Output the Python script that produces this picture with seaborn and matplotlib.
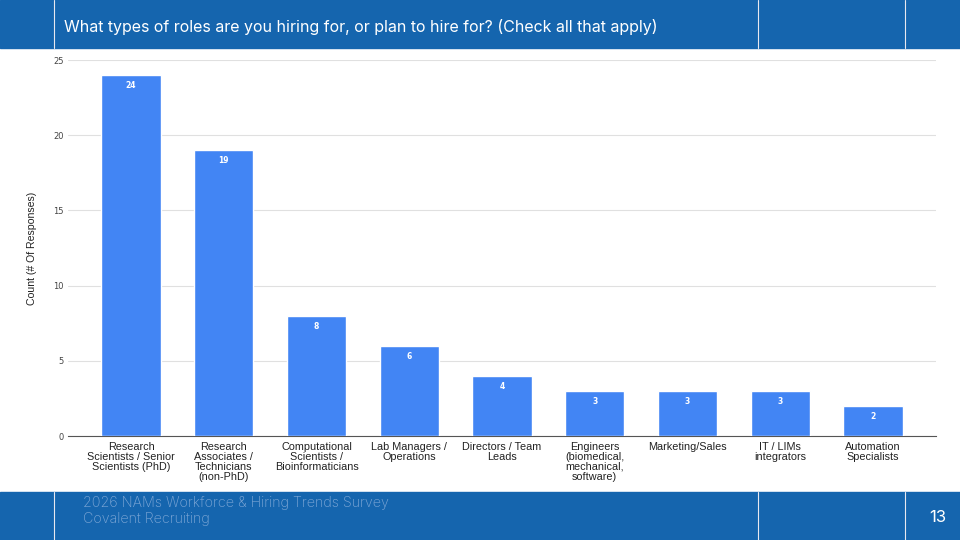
import seaborn as sns
import matplotlib.pyplot as plt
import pandas as pd

roles = ["Research\nScientists / Senior\nScientists (PhD)",
         "Research\nAssociates /\nTechnicians\n(non-PhD)",
         "Computational\nScientists /\nBioinformaticians",
         "Lab Managers /\nOperations",
         "Directors / Team\nLeads",
         "Engineers\n(biomedical,\nmechanical,\nsoftware)",
         "Marketing/Sales",
         "IT / LIMs\nintegrators",
         "Automation\nSpecialists"]
counts = [24, 19, 8, 6, 4, 3, 3, 3, 2]
yticks = [0, 5, 10, 15, 20, 25]

title = "What types of roles are you hiring for, or plan to hire for? (Check all that apply)"
footer = "2026 NAMs Workforce & Hiring Trends Survey\nCovalent Recruiting"
page = "13"

banner = "#1565ae"
bar_color = "#4285f4"

sns.set_style("white")
plt.rcParams['font.family'] = ['Roboto', 'DejaVu Sans']

fig = plt.figure(figsize=(9.6, 5.4), dpi=100)
df = pd.DataFrame({"role": roles, "count": counts})

# banners
fig.patches.append(plt.Rectangle((0, 1 - 48 / 540), 1, 48 / 540, transform=fig.transFigure,
                                 color=banner, zorder=0))
fig.patches.append(plt.Rectangle((0, 0), 1, 48 / 540, transform=fig.transFigure,
                                 color=banner, zorder=0))
for xv in [54, 758, 905]:
    fig.add_artist(plt.Line2D([xv / 960, xv / 960], [1 - 48 / 540, 1], transform=fig.transFigure,
                              color="#e8e8f0", lw=0.8))
    fig.add_artist(plt.Line2D([xv / 960, xv / 960], [0, 48 / 540], transform=fig.transFigure,
                              color="#e8e8f0", lw=0.8))
fig.text(64 / 960, 1 - 27 / 540, title, color="white", fontsize=11.5, va="center", ha="left",
         family="Inter")
fig.text(83 / 960, 1 - 511 / 540, footer, color="#7ea7d6", fontsize=10.3, va="center", ha="left",
         linespacing=1.2, family="Inter", fontweight="light")
fig.text(938 / 960, 1 - 518 / 540, page, color="white", fontsize=12, va="center", ha="center",
         family="Inter")

ax = fig.add_axes([68 / 960, 1 - 436 / 540, (936 - 68) / 960, (436 - 60) / 540])
sns.barplot(data=df, x="role", y="count", color=bar_color, saturation=1, width=0.64, ax=ax,
            zorder=3)
for i, v in enumerate(counts):
    ax.text(i, v - 0.4, str(v), color="white", fontsize=5.5, ha="center", va="top", zorder=4,
            family="DejaVu Sans", fontweight="bold")

ax.set_ylim(0, 25)
ax.set_xlim(-0.68, 8.68)
ax.set_yticks(yticks)
ax.set_yticklabels([str(t) for t in yticks], fontsize=6, color="#444444", family="DejaVu Sans")
ax.tick_params(axis="y", length=0, pad=3)
ax.tick_params(axis="x", length=0, pad=4)
ax.set_xticks(range(len(roles)))
ax.set_xticklabels(roles, fontsize=7.8, color="#222222", linespacing=1.0, family="Liberation Sans")
ax.grid(axis="y", color="#e0e0e0", lw=0.8, zorder=0)
ax.set_xlabel("")
ax.set_ylabel("Count (# Of Responses)", fontsize=7.6, color="#222222", family="Liberation Sans",
              labelpad=12)
for s in ["top", "right", "left"]:
    ax.spines[s].set_visible(False)
ax.spines["bottom"].set_color("#555555")
ax.spines["bottom"].set_linewidth(0.8)

fig.savefig("out.png", dpi=100)
